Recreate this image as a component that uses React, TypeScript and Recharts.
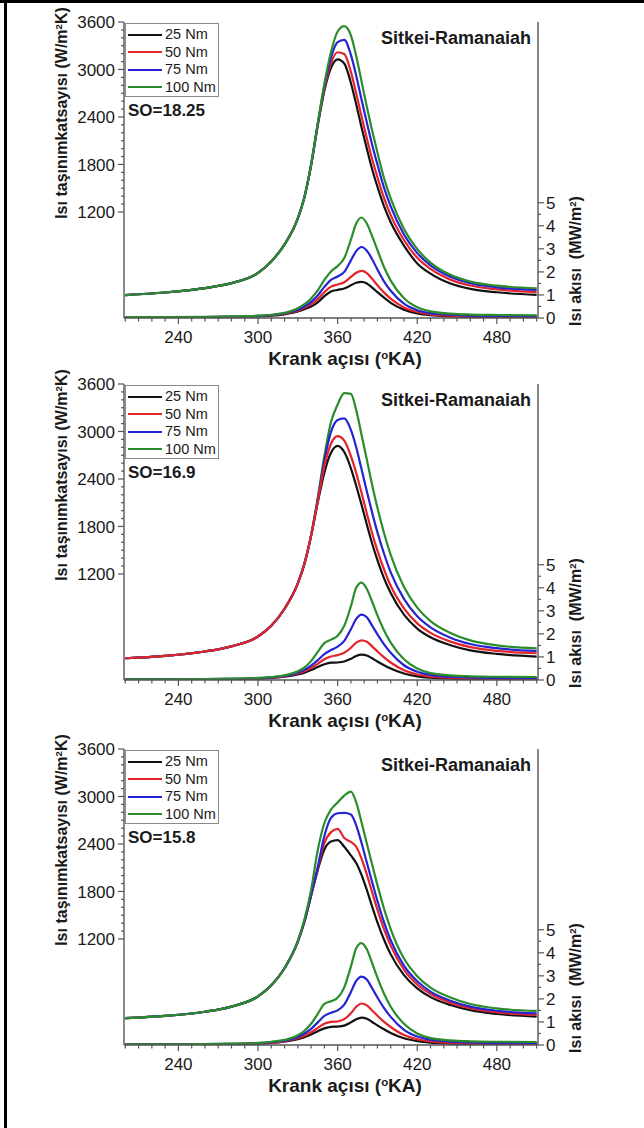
import React from 'react';
import { LineChart, Line, XAxis, YAxis } from 'recharts';

// Crank angle grid (°KA)
const ANGLES = [200, 230, 260, 280, 300, 310, 320, 330, 335, 340, 345, 350, 355, 360, 365, 370, 374, 378, 382, 386, 390, 395, 400, 410, 420, 430, 445, 460, 480, 510];

const SERIES_NAMES = ['25 Nm', '50 Nm', '75 Nm', '100 Nm'];

// Tick labels
const X_TICKS_MAJOR = [240, 300, 360, 420, 480];
const X_TICKS_MINOR = [200, 210, 220, 230, 250, 260, 270, 280, 290, 310, 320, 330, 340, 350, 370, 380, 390, 400, 410, 430, 440, 450, 460, 470, 490, 500, 510];
const H_TICKS_MAJOR = [1200, 1800, 2400, 3000, 3600];
const H_TICKS_MINOR = [1300, 1400, 1500, 1600, 1700, 1900, 2000, 2100, 2200, 2300, 2500, 2600, 2700, 2800, 2900, 3100, 3200, 3300, 3400, 3500];
const Q_TICKS_MAJOR = [0, 1, 2, 3, 4, 5];
const Q_TICKS_MINOR = [0.5, 1.5, 2.5, 3.5, 4.5];

// ---------- SO = 18.25 ----------
const H_1825_25 = [150, 182, 238, 300, 430, 575, 790, 1120, 1390, 1790, 2290, 2730, 3020, 3128, 3075, 2830, 2560, 2270, 2000, 1740, 1520, 1270, 1070, 775, 550, 420, 295, 228, 185, 152];
const H_1825_50 = [150, 182, 238, 300, 430, 575, 790, 1120, 1390, 1792, 2300, 2750, 3080, 3218, 3195, 2970, 2700, 2410, 2130, 1870, 1640, 1375, 1160, 845, 620, 480, 345, 270, 222, 186];
const H_1825_75 = [150, 182, 238, 300, 430, 575, 790, 1120, 1390, 1795, 2310, 2790, 3150, 3345, 3375, 3185, 2920, 2620, 2330, 2050, 1800, 1505, 1270, 915, 680, 525, 380, 300, 248, 215];
const H_1825_100 = [150, 182, 238, 300, 430, 575, 790, 1120, 1390, 1800, 2320, 2820, 3220, 3480, 3548, 3430, 3170, 2850, 2530, 2230, 1950, 1625, 1370, 985, 730, 560, 405, 320, 268, 236];
const Q_1825_25 = [0.02, 0.02, 0.03, 0.04, 0.07, 0.1, 0.16, 0.28, 0.38, 0.5, 0.68, 0.95, 1.15, 1.22, 1.28, 1.42, 1.53, 1.57, 1.5, 1.32, 1.12, 0.88, 0.66, 0.36, 0.2, 0.12, 0.07, 0.05, 0.04, 0.03];
const Q_1825_50 = [0.03, 0.03, 0.04, 0.05, 0.08, 0.12, 0.18, 0.32, 0.44, 0.6, 0.82, 1.12, 1.36, 1.45, 1.55, 1.78, 1.96, 2.04, 1.95, 1.7, 1.42, 1.1, 0.84, 0.46, 0.26, 0.16, 0.1, 0.07, 0.06, 0.05];
const Q_1825_75 = [0.03, 0.03, 0.04, 0.06, 0.09, 0.13, 0.2, 0.36, 0.5, 0.7, 0.98, 1.35, 1.65, 1.8, 2.0, 2.5, 2.9, 3.08, 2.92, 2.55, 2.1, 1.58, 1.18, 0.62, 0.34, 0.21, 0.14, 0.1, 0.09, 0.08];
const Q_1825_100 = [0.04, 0.04, 0.05, 0.07, 0.1, 0.14, 0.22, 0.42, 0.6, 0.85, 1.2, 1.65, 2.02, 2.25, 2.6, 3.4, 4.1, 4.36, 4.1, 3.55, 2.95, 2.2, 1.62, 0.86, 0.47, 0.29, 0.19, 0.15, 0.13, 0.12];

// ---------- SO = 16.9 ----------
const H_169_25 = [135, 165, 220, 285, 410, 545, 760, 1080, 1330, 1680, 2100, 2480, 2730, 2818, 2740, 2535, 2315, 2075, 1825, 1585, 1375, 1145, 960, 685, 510, 400, 300, 235, 190, 156];
const H_169_50 = [135, 165, 220, 285, 410, 545, 760, 1082, 1335, 1690, 2120, 2560, 2845, 2942, 2885, 2690, 2475, 2225, 1965, 1715, 1495, 1255, 1050, 765, 575, 455, 345, 275, 228, 198];
const H_169_75 = [135, 165, 220, 285, 410, 545, 760, 1080, 1330, 1685, 2140, 2630, 2995, 3145, 3165, 3020, 2800, 2525, 2245, 1975, 1725, 1455, 1220, 885, 665, 525, 395, 315, 262, 227];
const H_169_100 = [135, 165, 220, 285, 410, 545, 760, 1080, 1330, 1690, 2160, 2690, 3120, 3340, 3485, 3475, 3270, 2960, 2645, 2325, 2035, 1715, 1440, 1035, 775, 605, 455, 360, 298, 261];
const Q_169_25 = [0.02, 0.02, 0.03, 0.04, 0.06, 0.09, 0.14, 0.24, 0.32, 0.43, 0.56, 0.68, 0.75, 0.76, 0.8, 0.92, 1.04, 1.1, 1.06, 0.94, 0.8, 0.64, 0.5, 0.28, 0.16, 0.1, 0.06, 0.04, 0.03, 0.03];
const Q_169_50 = [0.02, 0.02, 0.03, 0.04, 0.07, 0.1, 0.16, 0.28, 0.38, 0.52, 0.7, 0.9, 1.02, 1.08, 1.18, 1.4, 1.62, 1.72, 1.66, 1.46, 1.24, 0.98, 0.76, 0.42, 0.24, 0.15, 0.1, 0.07, 0.06, 0.05];
const Q_169_75 = [0.03, 0.03, 0.04, 0.05, 0.08, 0.11, 0.18, 0.32, 0.44, 0.62, 0.86, 1.12, 1.3, 1.45, 1.7, 2.2, 2.65, 2.84, 2.72, 2.36, 1.98, 1.55, 1.18, 0.64, 0.36, 0.22, 0.14, 0.11, 0.09, 0.08];
const Q_169_100 = [0.03, 0.03, 0.04, 0.06, 0.09, 0.13, 0.2, 0.38, 0.55, 0.82, 1.22, 1.6, 1.75, 1.92, 2.35, 3.2, 4.0, 4.22, 3.95, 3.4, 2.8, 2.15, 1.62, 0.9, 0.5, 0.3, 0.2, 0.16, 0.14, 0.13];

// ---------- SO = 15.8 ----------
const H_158_25 = [200, 228, 280, 345, 475, 615, 830, 1165, 1420, 1745, 2070, 2330, 2430, 2448, 2365, 2255, 2160, 2010, 1820, 1610, 1410, 1190, 1005, 742, 575, 465, 365, 300, 252, 219];
const H_158_50 = [200, 228, 280, 345, 475, 615, 830, 1165, 1420, 1750, 2090, 2410, 2550, 2592, 2475, 2425, 2365, 2215, 2015, 1790, 1570, 1320, 1115, 812, 625, 505, 395, 325, 274, 240];
const H_158_75 = [200, 228, 280, 345, 475, 615, 830, 1165, 1425, 1755, 2110, 2500, 2730, 2788, 2792, 2772, 2635, 2415, 2165, 1920, 1680, 1410, 1185, 862, 665, 535, 420, 345, 293, 261];
const H_158_100 = [200, 228, 280, 345, 475, 615, 830, 1175, 1450, 1820, 2320, 2665, 2835, 2925, 3012, 3062, 2925, 2675, 2405, 2140, 1880, 1580, 1325, 952, 730, 585, 460, 378, 322, 290];
const Q_158_25 = [0.02, 0.02, 0.03, 0.04, 0.06, 0.09, 0.14, 0.25, 0.34, 0.46, 0.6, 0.72, 0.79, 0.8, 0.84, 0.98, 1.12, 1.19, 1.14, 1.0, 0.85, 0.68, 0.52, 0.29, 0.17, 0.1, 0.06, 0.04, 0.03, 0.03];
const Q_158_50 = [0.02, 0.02, 0.03, 0.04, 0.07, 0.1, 0.16, 0.29, 0.4, 0.55, 0.74, 0.92, 1.0, 1.02, 1.12, 1.38, 1.66, 1.8, 1.72, 1.5, 1.27, 1.0, 0.78, 0.43, 0.25, 0.16, 0.1, 0.07, 0.06, 0.05];
const Q_158_75 = [0.03, 0.03, 0.04, 0.05, 0.08, 0.12, 0.19, 0.35, 0.5, 0.7, 0.98, 1.26, 1.4, 1.5, 1.75, 2.3, 2.78, 2.97, 2.84, 2.46, 2.06, 1.6, 1.22, 0.66, 0.37, 0.23, 0.15, 0.11, 0.09, 0.08];
const Q_158_100 = [0.03, 0.03, 0.04, 0.06, 0.09, 0.14, 0.22, 0.42, 0.62, 0.92, 1.35, 1.78, 1.9, 2.05, 2.5, 3.4, 4.2, 4.42, 4.15, 3.55, 2.92, 2.22, 1.66, 0.92, 0.5, 0.3, 0.2, 0.16, 0.14, 0.13];

const PANELS = [
  { so: 'SO=18.25', h: [H_1825_25, H_1825_50, H_1825_75, H_1825_100], q: [Q_1825_25, Q_1825_50, Q_1825_75, Q_1825_100] },
  { so: 'SO=16.9', h: [H_169_25, H_169_50, H_169_75, H_169_100], q: [Q_169_25, Q_169_50, Q_169_75, Q_169_100] },
  { so: 'SO=15.8', h: [H_158_25, H_158_50, H_158_75, H_158_100], q: [Q_158_25, Q_158_50, Q_158_75, Q_158_100] },
];

// ---------- styles ----------
const COLORS = ['#111111', '#e3242b', '#2424d2', '#2a8c2a'];
const AXIS_COLOR = '#555555';
const TEXT_COLOR = '#1a1a1a';
const FONT = '"Liberation Sans", Arial, Helvetica, sans-serif';
const PANEL_TOPS = [0, 362, 727];
// drawing order of the h curves per panel (which one ends on top where they overlap)
const H_DRAW_ORDER = [[0, 1, 2, 3], [0, 3, 2, 1], [0, 1, 2, 3]];
const X_DOMAIN = [199, 511];
const H_DOMAIN = [-140, 3600];
const Q_DOMAIN = [0, 12.84];

const xMajorSet = new Set(X_TICKS_MAJOR);
const hMajorSet = new Set(H_TICKS_MAJOR);
const qMajorSet = new Set(Q_TICKS_MAJOR);

const LeftTick = (props: any) => {
  const { x, y, payload } = props;
  const major = hMajorSet.has(payload.value);
  return (
    <g>
      <line x1={x - (major ? 6 : 3)} x2={x} y1={y} y2={y} stroke={AXIS_COLOR} strokeWidth={1.2} />
      {major && (
        <text x={x - 9} y={y} dy="0.36em" textAnchor="end" fontSize={17} fill={TEXT_COLOR} style={{ fontFamily: FONT }}>
          {payload.value}
        </text>
      )}
    </g>
  );
};

const RightTick = (props: any) => {
  const { x, y, payload } = props;
  const major = qMajorSet.has(payload.value);
  return (
    <g>
      <line x1={x} x2={x + (major ? 6 : 3)} y1={y} y2={y} stroke={AXIS_COLOR} strokeWidth={1.2} />
      {major && (
        <text x={x + 8} y={y} dy="0.36em" textAnchor="start" fontSize={17} fill={TEXT_COLOR} style={{ fontFamily: FONT }}>
          {payload.value}
        </text>
      )}
    </g>
  );
};

const BottomTick = (props: any) => {
  const { x, y, payload } = props;
  const major = xMajorSet.has(payload.value);
  return (
    <g>
      <line x1={x} x2={x} y1={y} y2={y + (major ? 6 : 3.5)} stroke={AXIS_COLOR} strokeWidth={1.2} />
      {major && (
        <text x={x} y={y + 19} dy="0.36em" textAnchor="middle" fontSize={17} fill={TEXT_COLOR} style={{ fontFamily: FONT }}>
          {payload.value}
        </text>
      )}
    </g>
  );
};

const sup: React.CSSProperties = { fontSize: '0.6em', position: 'relative', top: '-0.5em' };

const rotated = (cx: number, cy: number): React.CSSProperties => ({
  position: 'absolute',
  left: cx,
  top: cy,
  transform: 'translate(-50%, -50%) rotate(-90deg)',
  whiteSpace: 'pre',
  fontWeight: 700,
  fontSize: 16,
  lineHeight: '18px',
  color: TEXT_COLOR,
});

function Panel({ panel, top, order }: { panel: typeof PANELS[number]; top: number; order: number[] }) {
  const data = ANGLES.map((a, i) => ({
    a,
    h25: panel.h[0][i],
    h50: panel.h[1][i],
    h75: panel.h[2][i],
    h100: panel.h[3][i],
    q25: panel.q[0][i],
    q50: panel.q[1][i],
    q75: panel.q[2][i],
    q100: panel.q[3][i],
  }));
  const hKeys = ['h25', 'h50', 'h75', 'h100'];
  const qKeys = ['q25', 'q50', 'q75', 'q100'];
  return (
    <div style={{ position: 'absolute', left: 0, top, width: 644, height: 362 }}>
      <LineChart width={644} height={362} data={data} margin={{ top: 22, right: 0, left: 0, bottom: 0 }}>
        <XAxis
          dataKey="a"
          type="number"
          domain={X_DOMAIN}
          allowDataOverflow
          ticks={[...X_TICKS_MINOR, ...X_TICKS_MAJOR].sort((a, b) => a - b)}
          interval={0}
          height={44}
          tickSize={0}
          tickMargin={0}
          tickLine={false}
          tick={(p: any) => <BottomTick {...p} />}
          axisLine={{ stroke: AXIS_COLOR, strokeWidth: 1.4 }}
        />
        <XAxis
          xAxisId="top"
          orientation="top"
          dataKey="a"
          type="number"
          domain={X_DOMAIN}
          allowDataOverflow
          height={0}
          tick={false}
          tickLine={false}
          axisLine={{ stroke: AXIS_COLOR, strokeWidth: 1.4 }}
        />
        <YAxis
          yAxisId="h"
          orientation="left"
          type="number"
          domain={H_DOMAIN}
          allowDataOverflow
          width={124}
          ticks={[...H_TICKS_MINOR, ...H_TICKS_MAJOR].sort((a, b) => a - b)}
          interval={0}
          tickSize={0}
          tickMargin={0}
          tickLine={false}
          tick={(p: any) => <LeftTick {...p} />}
          axisLine={{ stroke: AXIS_COLOR, strokeWidth: 1.4 }}
        />
        <YAxis
          yAxisId="q"
          orientation="right"
          type="number"
          domain={Q_DOMAIN}
          allowDataOverflow
          width={106}
          ticks={[...Q_TICKS_MINOR, ...Q_TICKS_MAJOR].sort((a, b) => a - b)}
          interval={0}
          tickSize={0}
          tickMargin={0}
          tickLine={false}
          tick={(p: any) => <RightTick {...p} />}
          axisLine={{ stroke: AXIS_COLOR, strokeWidth: 1.4 }}
        />
        {order.map((i) => (
          <Line
            key={hKeys[i]}
            yAxisId="h"
            dataKey={hKeys[i]}
            name={SERIES_NAMES[i]}
            type="monotone"
            stroke={COLORS[i]}
            strokeWidth={2.2}
            dot={false}
            activeDot={false}
            isAnimationActive={false}
          />
        ))}
        {qKeys.map((k, i) => (
          <Line
            key={k}
            yAxisId="q"
            dataKey={k}
            name={SERIES_NAMES[i]}
            type="monotone"
            stroke={COLORS[i]}
            strokeWidth={2.2}
            dot={false}
            activeDot={false}
            isAnimationActive={false}
          />
        ))}
      </LineChart>

      {/* Legend */}
      <div
        style={{
          position: 'absolute',
          left: 125,
          top: 23,
          width: 94,
          height: 74,
          border: '1px solid #8a8a8a',
          background: 'white',
          boxSizing: 'border-box',
        }}
      >
        {SERIES_NAMES.map((n, i) => (
          <div key={n} style={{ position: 'absolute', left: 2, top: 2 + i * 17.5, height: 17, display: 'flex', alignItems: 'center' }}>
            <div style={{ width: 34, height: 2, background: COLORS[i] }} />
            <span style={{ marginLeft: 3, fontSize: 14.5, color: TEXT_COLOR, lineHeight: '17px' }}>{n}</span>
          </div>
        ))}
      </div>

      {/* Annotations */}
      <div style={{ position: 'absolute', left: 128, top: 100, fontSize: 17, fontWeight: 700, color: TEXT_COLOR, lineHeight: '22px' }}>
        {panel.so}
      </div>
      <div style={{ position: 'absolute', right: 644 - 531, top: 27, fontSize: 18, fontWeight: 700, color: TEXT_COLOR, lineHeight: '22px' }}>
        Sitkei-Ramanaiah
      </div>

      {/* Axis titles */}
      <div style={rotated(63, 113)}>
        Isı taşınımkatsayısı (W/m<span style={sup}>2</span>K)
      </div>
      <div style={rotated(577, 261)}>
        {'Isı akısı  (MW/m'}<span style={sup}>2</span>{')'}
      </div>
      <div
        style={{
          position: 'absolute',
          left: 345,
          top: 360,
          transform: 'translate(-50%, -50%)',
          whiteSpace: 'pre',
          fontWeight: 700,
          fontSize: 19,
          lineHeight: '22px',
          color: TEXT_COLOR,
        }}
      >
        Krank açısı (<span style={sup}>o</span>KA)
      </div>
    </div>
  );
}

export default function App() {
  return (
    <div
      style={{
        position: 'absolute',
        left: 0,
        top: 0,
        width: 644,
        height: 1128,
        background: 'white',
        fontFamily: FONT,
        overflow: 'hidden',
      }}
    >
      <div style={{ position: 'absolute', left: 0, top: 0, width: 644, height: 3, background: '#000' }} />
      <div style={{ position: 'absolute', left: 4, top: 0, width: 2.5, height: 1128, background: '#000' }} />
      {PANELS.map((p, i) => (
        <Panel key={p.so} panel={p} top={PANEL_TOPS[i]} order={H_DRAW_ORDER[i]} />
      ))}
    </div>
  );
}
